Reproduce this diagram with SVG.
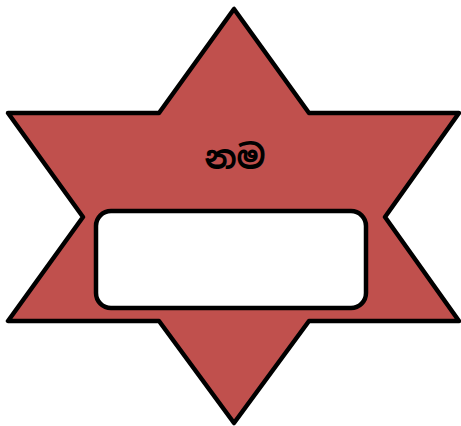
<svg xmlns="http://www.w3.org/2000/svg" width="461" height="426" viewBox="0 0 461 426">
<style>
.star{fill:#C0504D;stroke:#000;stroke-width:4.5;stroke-linejoin:round}
.box{fill:#fff;stroke:#000;stroke-width:4.5}
.lbl{font-family:"Noto Sans Sinhala","Noto Sans","DejaVu Sans",sans-serif;font-size:33px;font-weight:bold;fill:#000}
</style>
<g id="star">
<polygon class="star" points="234,9 159,113 8,113 83,217 8,321 159,321 234,423 309,321 459,321 385,217 459,113 309,113"/>
<text class="lbl" x="235" y="169" text-anchor="middle">නම</text>
</g>
<g id="field">
<rect class="box" x="96" y="211" width="270" height="97" rx="15"/>
</g>
</svg>
